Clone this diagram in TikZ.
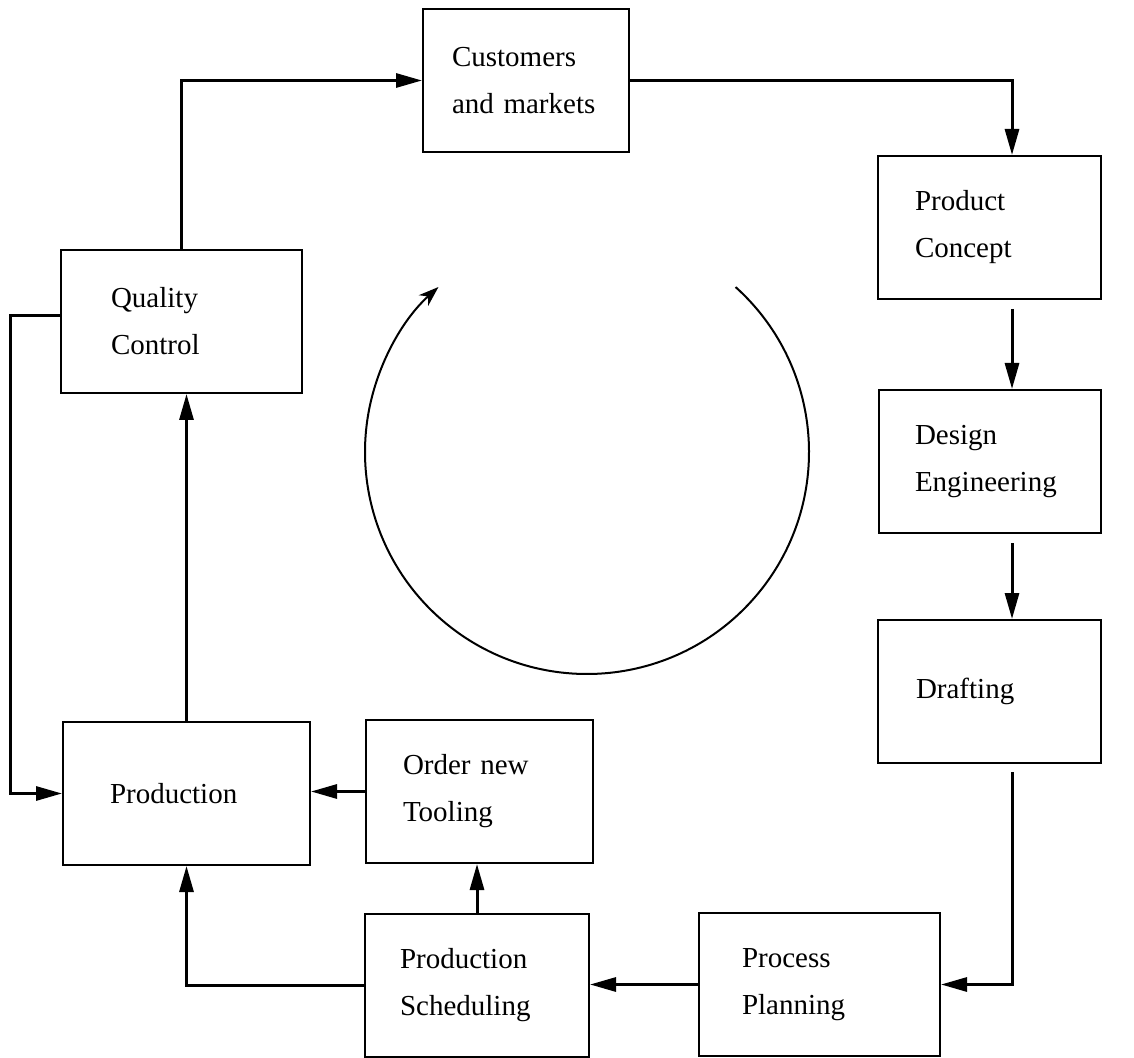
\documentclass[tikz,border=0pt]{standalone}
\usepackage{fontspec}
\setmainfont{Liberation Serif}
\usetikzlibrary{arrows.meta,calc}
\tikzset{
  bx/.style={draw, line width=1pt, anchor=north west, align=left,
    inner ysep=0pt, minimum height=71.5pt,
    font=\fontsize{14.5}{23.5}\selectfont},
  arr/.style={line width=1.5pt, -{Triangle[length=13pt,width=7pt]}},
  cyc/.style={line width=1pt, -{Stealth[length=10pt,width=7pt,inset=3pt]}}
}
\begin{document}
\begin{tikzpicture}[x=0.5pt,y=-0.5pt]
\useasboundingbox (0,0) rectangle (1134,1058);
% boxes
\node[bx, inner xsep=14.5pt, text width=74pt]   (cust)   at (422,8)   {Customers\\and markets};
\node[bx, inner xsep=18.5pt, text width=74.5pt] (prodc)  at (877,155) {Product\\Concept};
\node[bx, inner xsep=18pt,   text width=75pt]   (design) at (878,389) {Design\\Engineering};
\node[bx, inner xsep=19pt,   text width=73.5pt] (draft)  at (877,619) {Drafting};
\node[bx, inner xsep=21.5pt, text width=77.5pt] (pp)     at (698,912) {Process\\Planning};
\node[bx, inner xsep=17.5pt, text width=77pt]   (ps)     at (364,913) {Production\\Scheduling};
\node[bx, inner xsep=18.5pt, text width=76.5pt] (order)  at (365,719) {Order new\\Tooling};
\node[bx, inner xsep=23.5pt, text width=76.5pt] (prod)   at (62,721)  {Production};
\node[bx, inner xsep=25pt,   text width=70.5pt] (qc)     at (60,249)  {Quality\\Control};
% helper coordinates
\coordinate (rx) at (1012,0);
\coordinate (lx) at (10,316);
% connectors
\draw[arr] (qc.north) |- (cust.west);
\draw[arr] (cust.east) -| (prodc.north -| rx);
\draw[arr, shorten <=4.5pt] (prodc.south -| rx) -- (design.north -| rx);
\draw[arr, shorten <=4.5pt] (design.south -| rx) -- (draft.north -| rx);
\draw[arr, shorten <=4pt] (draft.south -| rx) |- (pp.east);
\draw[arr] (pp.west) -- (ps.east |- pp.west);
\draw[arr] (ps.north) -- (order.south -| ps.north);
\draw[arr] (order.west) -- (prod.east |- order.west);
\draw[arr] (ps.west) -| (prod.south);
\draw[arr] (prod.north) -- (qc.south -| prod.north);
\draw[arr] (qc.west |- lx) -- (lx) |- (prod.west);
% cycle arrow
\coordinate (cc) at (587,452);
\draw[cyc] (cc) ++(-48:222) arc[start angle=-48, end angle=228, radius=222];
\end{tikzpicture}
\end{document}
